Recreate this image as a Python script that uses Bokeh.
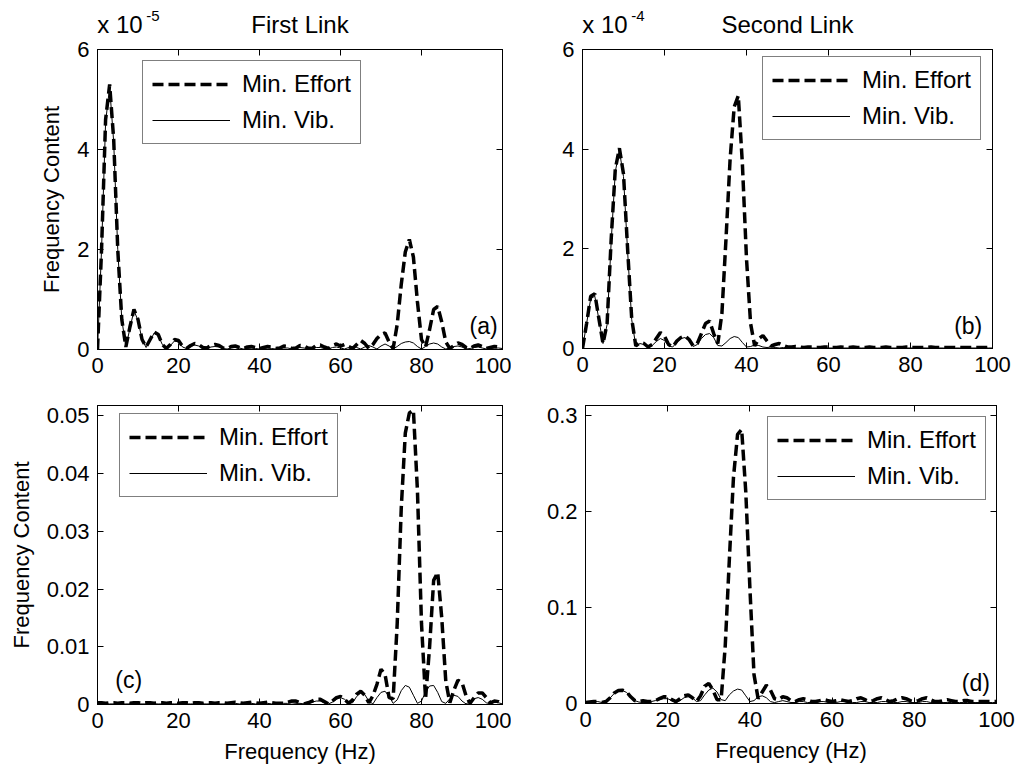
from bokeh.plotting import figure
from bokeh.layouts import column, row
from bokeh.models import (LinearAxis, FixedTicker, CustomJSTickFormatter, Label,
                          Legend, LegendItem, Range1d)
from bokeh.embed import file_html
from bokeh.resources import INLINE

FONT = "Liberation Sans"

# frequency grid (Hz)
freq = list(range(0, 101))

# (a) First link, units of 1e-5
a_effort = [0, 2.0, 4.6, 5.3, 4.2, 2.0, 0.6, 0.05, 0.45, 0.8,
            0.6, 0.2, 0.05, 0.2, 0.35, 0.3, 0.1, 0.02, 0.1, 0.2,
            0.18, 0.06, 0.02, 0.08, 0.12, 0.1, 0.04, 0.03, 0.08, 0.1,
            0.08, 0.03, 0.02, 0.06, 0.07, 0.04, 0.02, 0.05, 0.06, 0.04,
            0.02, 0.04, 0.06, 0.05, 0.02, 0.03, 0.07, 0.06, 0.02, 0.03,
            0.08, 0.07, 0.03, 0.02, 0.08, 0.09, 0.05, 0.02, 0.08, 0.11,
            0.07, 0.1, 0.06, 0.02, 0.1, 0.18, 0.12, 0.02, 0.1, 0.22,
            0.3, 0.33, 0.15, 0.02, 0.5, 1.3, 1.95, 2.2, 1.85, 0.95,
            0.2, 0.05, 0.4, 0.8, 0.86, 0.55, 0.15, 0.02, 0.08, 0.13,
            0.1, 0.04, 0.02, 0.07, 0.09, 0.06, 0.02, 0.04, 0.06, 0.05,
            0.03]
a_vib = [0, 2.0, 4.55, 5.25, 4.15, 2.0, 0.6, 0.05, 0.42, 0.78,
         0.58, 0.2, 0.04, 0.18, 0.33, 0.28, 0.1, 0.02, 0.08, 0.17,
         0.15, 0.05, 0.02, 0.06, 0.09, 0.07, 0.03, 0.02, 0.05, 0.06,
         0.05, 0.02, 0.01, 0.03, 0.04, 0.03, 0.01, 0.02, 0.03, 0.02,
         0.01, 0.02, 0.03, 0.02, 0.01, 0.02, 0.03, 0.03, 0.01, 0.02,
         0.04, 0.03, 0.01, 0.02, 0.04, 0.04, 0.02, 0.01, 0.04, 0.05,
         0.03, 0.01, 0.04, 0.06, 0.04, 0.01, 0.05, 0.08, 0.05, 0.01,
         0.07, 0.11, 0.07, 0.01, 0.06, 0.12, 0.15, 0.16, 0.13, 0.06,
         0.01, 0.06, 0.11, 0.13, 0.11, 0.05, 0.01, 0.03, 0.06, 0.07,
         0.05, 0.01, 0.02, 0.04, 0.05, 0.03, 0.01, 0.02, 0.03, 0.03,
         0.02]

# (b) Second link, units of 1e-4
b_effort = [0, 0.5, 1.05, 1.1, 0.6, 0.1, 0.5, 2.2, 3.6, 4.02,
            3.5, 2.0, 0.6, 0.05, 0.12, 0.1, 0.03, 0.08, 0.2, 0.32,
            0.25, 0.08, 0.03, 0.15, 0.22, 0.25, 0.18, 0.05, 0.1, 0.3,
            0.5, 0.55, 0.3, 0.1, 0.7, 2.2, 3.8, 4.85, 5.07, 3.7,
            1.8, 0.5, 0.05, 0.2, 0.26, 0.15, 0.05, 0.08, 0.1, 0.06,
            0.03, 0.03, 0.04, 0.03, 0.02, 0.03, 0.03, 0.02, 0.02, 0.03,
            0.03, 0.02, 0.02, 0.03, 0.02, 0.02, 0.03, 0.02, 0.02, 0.02,
            0.03, 0.02, 0.02, 0.02, 0.03, 0.02, 0.02, 0.02, 0.02, 0.03,
            0.02, 0.02, 0.02, 0.02, 0.02, 0.03, 0.02, 0.02, 0.02, 0.02,
            0.02, 0.02, 0.02, 0.02, 0.02, 0.02, 0.02, 0.02, 0.02, 0.02,
            0.02]
b_vib = [0, 0.5, 1.0, 1.05, 0.58, 0.1, 0.48, 2.15, 3.55, 3.97,
         3.45, 1.95, 0.58, 0.05, 0.1, 0.08, 0.03, 0.06, 0.14, 0.2,
         0.16, 0.05, 0.03, 0.12, 0.2, 0.22, 0.15, 0.04, 0.08, 0.2,
         0.28, 0.3, 0.22, 0.06, 0.05, 0.12, 0.2, 0.24, 0.22, 0.12,
         0.03, 0.04, 0.07, 0.06, 0.03, 0.02, 0.03, 0.02, 0.01, 0.02,
         0.01, 0.01, 0.01, 0.01, 0.01, 0.01, 0.01, 0.01, 0.01, 0.01,
         0.01, 0.01, 0.01, 0.01, 0.01, 0.01, 0.01, 0.01, 0.01, 0.01,
         0.01, 0.01, 0.01, 0.01, 0.01, 0.01, 0.01, 0.01, 0.01, 0.01,
         0.01, 0.01, 0.01, 0.01, 0.01, 0.01, 0.01, 0.01, 0.01, 0.01,
         0.01, 0.01, 0.01, 0.01, 0.01, 0.01, 0.01, 0.01, 0.01, 0.01,
         0.01]

# (c) First link
c_effort = [0.0003, 0.0003, 0.0002, 0.0003, 0.0003, 0.0002, 0.0003, 0.0003, 0.0002, 0.0003,
            0.0003, 0.0002, 0.0003, 0.0003, 0.0002, 0.0003, 0.0003, 0.0002, 0.0003, 0.0003,
            0.0002, 0.0003, 0.0003, 0.0002, 0.0003, 0.0003, 0.0002, 0.0003, 0.0003, 0.0002,
            0.0003, 0.0003, 0.0002, 0.0003, 0.0004, 0.0003, 0.0002, 0.0003, 0.0004, 0.0003,
            0.0002, 0.0003, 0.0004, 0.0003, 0.0002, 0.0002, 0.0002, 0.0004, 0.0006, 0.0006,
            0.0003, 0.0001, 0.0003, 0.0006, 0.0009, 0.0009, 0.0005, 0.0001, 0.0006, 0.0012,
            0.0014, 0.0009, 0.0002, 0.0008, 0.0018, 0.0023, 0.0016, 0.0003, 0.0015, 0.0035,
            0.0061, 0.0052, 0.0012, 0.001, 0.014, 0.034, 0.047, 0.0505, 0.051, 0.037,
            0.014, 0.001, 0.01, 0.0215, 0.0229, 0.015, 0.004, 0.0003, 0.0025, 0.0042,
            0.0038, 0.0015, 0.0002, 0.0012, 0.002, 0.002, 0.0012, 0.0003, 0.0006, 0.0005,
            0.0002]
c_vib = [0.0001, 0.0001, 0.0001, 0.0001, 0.0001, 0.0001, 0.0001, 0.0001, 0.0001, 0.0001,
         0.0001, 0.0001, 0.0001, 0.0001, 0.0001, 0.0001, 0.0001, 0.0001, 0.0001, 0.0001,
         0.0001, 0.0001, 0.0001, 0.0001, 0.0001, 0.0001, 0.0001, 0.0001, 0.0001, 0.0001,
         0.0001, 0.0001, 0.0001, 0.0001, 0.0002, 0.0001, 0.0001, 0.0001, 0.0002, 0.0001,
         0.0001, 0.0001, 0.0002, 0.0001, 0.0001, 0.0001, 0.0002, 0.0002, 0.0003, 0.0002,
         0.0002, 0.0001, 0.0002, 0.0004, 0.0006, 0.0006, 0.0003, 0.0001, 0.0004, 0.0009,
         0.0012, 0.0009, 0.0003, 0.0003, 0.0014, 0.002, 0.0017, 0.0006, 0.0001, 0.0012,
         0.0021, 0.0023, 0.0014, 0.0002, 0.0008, 0.0024, 0.0033, 0.003, 0.0016, 0.0002,
         0.0006, 0.0022, 0.0032, 0.0033, 0.0021, 0.0005, 0.0002, 0.001, 0.0016, 0.0014,
         0.0006, 0.0001, 0.0005, 0.001, 0.0012, 0.0009, 0.0003, 0.0001, 0.0004, 0.0003,
         0.0001]

# (d) Second link
d_effort = [0.001, 0.0015, 0.002, 0.002, 0.001, 0.002, 0.006, 0.011, 0.0135, 0.0138,
            0.012, 0.007, 0.003, 0.002, 0.003, 0.002, 0.002, 0.003, 0.005, 0.007,
            0.007, 0.004, 0.002, 0.005, 0.008, 0.009, 0.006, 0.002, 0.008, 0.018,
            0.021, 0.014, 0.004, 0.004, 0.06, 0.15, 0.235, 0.28, 0.285, 0.22,
            0.12, 0.03, 0.005, 0.012, 0.019, 0.014, 0.005, 0.004, 0.007, 0.006,
            0.003, 0.002, 0.004, 0.005, 0.004, 0.002, 0.002, 0.003, 0.004, 0.003,
            0.002, 0.003, 0.004, 0.003, 0.002, 0.003, 0.005, 0.006, 0.004, 0.002,
            0.003, 0.005, 0.006, 0.004, 0.002, 0.003, 0.005, 0.006, 0.005, 0.003,
            0.002, 0.003, 0.005, 0.006, 0.004, 0.002, 0.002, 0.003, 0.004, 0.003,
            0.002, 0.002, 0.003, 0.003, 0.002, 0.002, 0.002, 0.002, 0.002, 0.002,
            0.002]
d_vib = [0.001, 0.0015, 0.002, 0.002, 0.001, 0.002, 0.0058, 0.0105, 0.013, 0.0135,
         0.0115, 0.0068, 0.003, 0.0015, 0.001, 0.001, 0.002, 0.003, 0.004, 0.005,
         0.005, 0.003, 0.001, 0.003, 0.006, 0.007, 0.006, 0.002, 0.003, 0.009,
         0.014, 0.016, 0.012, 0.004, 0.003, 0.009, 0.013, 0.015, 0.014, 0.008,
         0.002, 0.003, 0.007, 0.008, 0.006, 0.002, 0.001, 0.002, 0.003, 0.002,
         0.001, 0.001, 0.002, 0.002, 0.001, 0.001, 0.001, 0.002, 0.002, 0.001,
         0.001, 0.001, 0.002, 0.002, 0.001, 0.001, 0.001, 0.002, 0.002, 0.001,
         0.001, 0.001, 0.002, 0.002, 0.001, 0.001, 0.001, 0.002, 0.002, 0.001,
         0.001, 0.001, 0.002, 0.002, 0.001, 0.001, 0.001, 0.001, 0.001, 0.001,
         0.001, 0.001, 0.001, 0.001, 0.001, 0.001, 0.001, 0.001, 0.001, 0.001,
         0.001]

x_ticks = [0, 20, 40, 60, 80, 100]
a_ticks = [0, 2, 4, 6]
b_ticks = [0, 2, 4, 6]
c_ticks = [0, 0.01, 0.02, 0.03, 0.04, 0.05]
d_ticks = [0, 0.1, 0.2, 0.3]

series_names = ["Min. Effort", "Min. Vib."]

INT_FMT = "return tick.toFixed(0)"
C_FMT = "return tick == 0 ? '0' : tick.toFixed(2)"
D_FMT = "return tick == 0 ? '0' : tick.toFixed(1)"


def style_axis(ax, ticks, fmt, show):
    ax.ticker = FixedTicker(ticks=ticks)
    ax.axis_line_color = "black"
    ax.axis_line_width = 1
    ax.major_tick_in = 6
    ax.major_tick_out = 0
    ax.major_tick_line_color = "black"
    ax.major_tick_line_width = 1
    ax.minor_tick_line_color = None
    if show:
        ax.formatter = CustomJSTickFormatter(code=fmt)
        ax.major_label_text_font = FONT
        ax.major_label_text_font_size = "22px"
        ax.major_label_text_color = "black"
        ax.major_label_standoff = 8
    else:
        ax.formatter = CustomJSTickFormatter(code="return ''")
        ax.major_label_text_font_size = "0px"
        ax.major_label_standoff = 0
    ax.axis_label_text_font = FONT
    ax.axis_label_text_font_size = "22px"
    ax.axis_label_text_font_style = "normal"
    ax.axis_label_text_color = "black"


def text_axis(positions, texts, size, standoff):
    """An 'above' axis used only to carry header texts (no line, no ticks)."""
    ax = LinearAxis()
    ax.ticker = FixedTicker(ticks=positions)
    ax.formatter = CustomJSTickFormatter(args=dict(labels=texts),
                                         code="return labels[index]")
    ax.axis_line_color = None
    ax.major_tick_line_color = None
    ax.minor_tick_line_color = None
    ax.major_tick_in = 0
    ax.major_tick_out = 0
    ax.major_label_text_font = FONT
    ax.major_label_text_font_size = size
    ax.major_label_text_color = "black"
    ax.major_label_standoff = standoff
    return ax


def make_panel(eff, vib, ymax, yticks, yfmt, fw, fh, bl, br, bt, bb,
               ylabel=None, xlabel=None, title=None, mult=None, px_per_hz=4.05,
               legend_xy=(0, 0), tag="", tag_x=0, tag_y=0, tag_align="right"):
    p = figure(frame_width=fw, frame_height=fh,
               min_border_left=bl, min_border_right=br,
               min_border_top=bt, min_border_bottom=bb,
               x_range=Range1d(0, 100), y_range=Range1d(0, ymax),
               output_backend="svg", toolbar_location=None)
    p.xgrid.visible = False
    p.ygrid.visible = False
    p.outline_line_color = "black"
    p.outline_line_width = 1
    p.background_fill_color = "white"
    p.border_fill_color = "white"

    style_axis(p.xaxis[0], x_ticks, INT_FMT, True)
    style_axis(p.yaxis[0], yticks, yfmt, True)
    if xlabel:
        p.xaxis[0].axis_label = xlabel
        p.xaxis[0].axis_label_standoff = 8
    if ylabel:
        p.yaxis[0].axis_label = ylabel
        p.yaxis[0].axis_label_standoff = 10

    ra = LinearAxis()
    style_axis(ra, yticks, "", False)
    p.add_layout(ra, "right")
    ta = LinearAxis()
    style_axis(ta, x_ticks, "", False)
    p.add_layout(ta, "above")

    if title:
        # header row: "x 10" at the left, panel title centred
        p.add_layout(text_axis([22.5 / px_per_hz, 50], ["x 10", title], "24px", 12), "above")
        # exponent, raised above "x 10"
        p.add_layout(text_axis([55.5 / px_per_hz], [mult], "15px", -13), "above")

    r1 = p.line(freq, eff, line_color="black", line_width=3.5, line_dash="11 5")
    r2 = p.line(freq, vib, line_color="black", line_width=1)

    leg = Legend(items=[LegendItem(label=series_names[0], renderers=[r1]),
                        LegendItem(label=series_names[1], renderers=[r2])],
                 location=legend_xy)
    leg.border_line_color = "black"
    leg.border_line_width = 1.5
    leg.background_fill_color = "white"
    leg.background_fill_alpha = 1
    leg.label_text_font = FONT
    leg.label_text_font_size = "24px"
    leg.label_text_color = "black"
    leg.glyph_width = 78
    leg.glyph_height = 24
    leg.label_height = 24
    leg.label_standoff = 12
    leg.padding = 9
    leg.spacing = 8
    leg.margin = 0
    p.add_layout(leg, "center")

    p.add_layout(Label(x=tag_x, y=tag_y, text=tag, text_align=tag_align,
                       text_baseline="middle", text_font=FONT,
                       text_font_size="23px", text_color="black"))
    return p


pa = make_panel(a_effort, a_vib, 6, a_ticks, INT_FMT, 405, 300, 97, 9, 47, 38,
                ylabel="Frequency Content", title="First Link", mult="-5", px_per_hz=4.05,
                legend_xy=(45, 205), tag="(a)", tag_x=98.8, tag_y=0.48)
pb = make_panel(b_effort, b_vib, 6, b_ticks, INT_FMT, 410, 299, 71, 30, 49, 37,
                title="Second Link", mult="-4", px_per_hz=4.1,
                legend_xy=(180, 208), tag="(b)", tag_x=97.5, tag_y=0.46)
pc = make_panel(c_effort, c_vib, 0.0518, c_ticks, C_FMT, 405, 299, 97, 9, 18, 69,
                ylabel="Frequency Content", xlabel="Frequency (Hz)",
                legend_xy=(22, 207), tag="(c)", tag_x=4.4, tag_y=0.0042, tag_align="left")
pd_ = make_panel(d_effort, d_vib, 0.31, d_ticks, D_FMT, 411, 298, 74, 26, 20, 68,
                 xlabel="Frequency (Hz)",
                 legend_xy=(182, 203), tag="(d)", tag_x=98.4, tag_y=0.0217)

layout = column(row(pa, pb), row(pc, pd_))
open("out.html", "w").write(file_html(layout, INLINE))
